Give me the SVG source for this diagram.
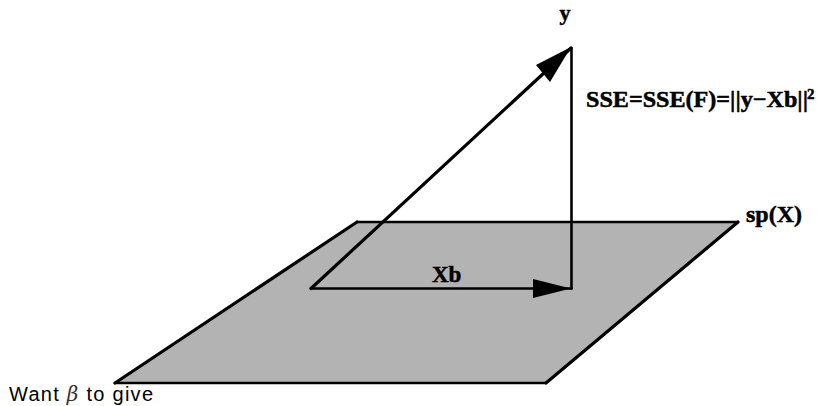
<svg xmlns="http://www.w3.org/2000/svg" width="817" height="406" viewBox="0 0 817 406">
<style>
.l{fill:none;stroke:#000;stroke-width:2.6;stroke-linecap:round;stroke-linejoin:round}
.d{stroke-width:3.2}
.h{fill:#000;stroke:none}
.b{font-family:"Liberation Serif",serif;font-weight:bold;fill:#000;stroke:#000;stroke-width:.5}
.c{font-family:"Liberation Sans",sans-serif;font-size:20px;fill:#000}
</style>
<rect width="817" height="406" fill="#fff"/>
<g id="plane"><polygon points="115,383 357,222 738,222 546,383" fill="#b3b3b3"/><path d="M115,383L357,222" class="l d"/><path d="M738,222L546,383" class="l d"/><path d="M357,222H738M115,383H546" class="l"/></g>
<g id="connectors">
<path class="l" d="M311,288.500L571.500,288.500"/>
<path class="l d" d="M311,288.500L571,48"/>
<path class="l" d="M571.500,48L571.500,288.500"/>
<polygon class="h" points="571,288.500 533,279 533,298"/>
<polygon class="h" points="571,47 536,65 550,82"/>
</g>
<g id="label-y"><text class="b" x="559.500" y="20" font-size="22">y</text></g>
<g id="label-sse"><text class="b" x="586" y="107" font-size="23" textLength="222" lengthAdjust="spacingAndGlyphs">SSE=SSE(F)=||y−Xb||</text><text class="b" x="807" y="99" font-size="15">2</text></g>
<g id="label-spx"><text class="b" x="746" y="222" font-size="24">sp(X)</text></g>
<g id="label-xb"><text class="b" x="432" y="282" font-size="23">Xb</text></g>
<g id="caption"><text class="c" x="9" y="401" textLength="144" lengthAdjust="spacing">Want <tspan font-family="DejaVu Serif" font-style="italic" fill="#333">β</tspan> to give</text></g>
</svg>
